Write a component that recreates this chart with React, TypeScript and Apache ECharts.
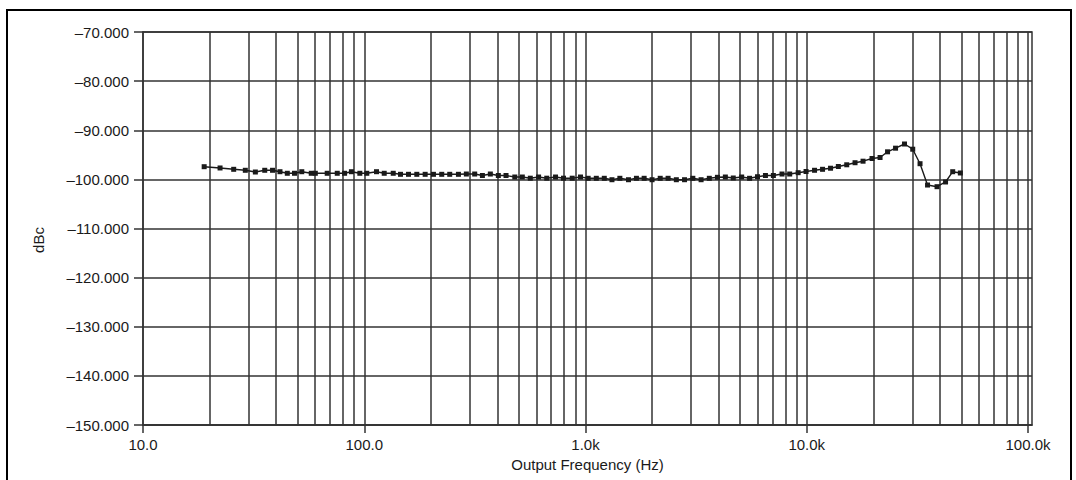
import React, { useEffect, useRef } from "react";
import * as echarts from "echarts";

// Output frequency (Hz) of each measured point
const freqHz = [
  18.9, 22.3, 25.7, 29.0, 32.2, 35.5, 38.5, 41.6, 44.9, 48.4, 52.2, 57.6, 60.1, 68.0, 75.5, 81.5, 87.5, 95.5,
  102.7, 113.6, 123.1, 135.2, 145.8, 158.5, 172.8, 188.5, 205.5, 224.0, 243.4, 266.5, 289.4, 315.6, 342.0,
  371.5, 403.7, 437.3, 479.1, 518.1, 563.0, 613.8, 668.1, 732.1, 795.5, 871.0, 949.3,
  1028, 1119, 1216, 1317, 1430, 1564, 1699, 1841, 1999, 2176, 2362, 2574, 2803, 3056, 3330, 3627, 3948,
  4287, 4655, 5080, 5515, 5991, 6506, 7066, 7729, 8375, 9145, 9928,
  10845, 11787, 12810, 13893, 15160, 16530, 17966, 19728, 21444, 23183, 25198, 27660, 30130, 32510,
  35150, 38800, 42400, 45680, 49450,
];

// Measured level (dBc) of each point
const levelDbc = [
  -97.42, -97.68, -97.95, -98.15, -98.5, -98.15, -98.15, -98.44, -98.76, -98.76, -98.44, -98.76, -98.76,
  -98.76, -98.76, -98.76, -98.44, -98.76, -98.76, -98.44, -98.76, -98.76, -98.97, -98.97, -98.97, -98.97,
  -98.97, -98.97, -98.97, -98.97, -98.91, -98.91, -99.21, -98.91, -99.21, -99.21, -99.52, -99.52, -99.76,
  -99.52, -99.76, -99.52, -99.76, -99.76, -99.52, -99.78, -99.78, -99.78, -100.07, -99.78, -100.07, -99.78,
  -99.78, -100.07, -99.78, -99.78, -100.07, -100.07, -99.78, -100.07, -99.78, -99.58, -99.52, -99.72,
  -99.52, -99.78, -99.46, -99.21, -99.21, -98.91, -98.91, -98.64, -98.4, -98.15, -97.95, -97.73, -97.38,
  -97.03, -96.61, -96.3, -95.75, -95.55, -94.39, -93.65, -92.8, -93.86, -96.81, -101.15, -101.49, -100.53,
  -98.44, -98.7,
];

// Decade tick values and their labels on the frequency axis
const xTickValues = [10, 100, 1000, 10000, 100000];
const xTickLabels = ["10.0", "100.0", "1.0k", "10.0k", "100.0k"];

// Vertical grid lines (2..9 of every decade, plus decades)
const xGridValues = [
  20, 30, 40, 50, 60, 70, 80, 90, 100,
  200, 300, 400, 500, 600, 700, 800, 900, 1000,
  2000, 3000, 4000, 5000, 6000, 7000, 8000, 9000, 10000,
  20000, 30000, 40000, 50000, 60000, 70000, 80000, 90000, 100000,
];

const yMin = -150;
const yMax = -70;
const yStep = 10;
const xMin = 10;
const xMax = 104250;

const FONT = "'Liberation Sans', Arial, Helvetica, sans-serif";
const GRID_COLOR = "#333333";
const TEXT_COLOR = "#1a1a1a";

export default function App() {
  const ref = useRef<HTMLDivElement>(null);

  useEffect(() => {
    if (!ref.current) return;
    const chart = echarts.init(ref.current, null, { renderer: "svg" });
    const data = freqHz.map((f, i) => [f, levelDbc[i]]);

    chart.setOption({
      animation: false,
      backgroundColor: "#ffffff",
      grid: {
        left: 143,
        top: 32,
        right: 44,
        bottom: 55,
        containLabel: false,
        outerBoundsMode: "none",
        show: true,
        borderColor: GRID_COLOR,
        borderWidth: 1.5,
        backgroundColor: "transparent",
      },
      graphic: [
        {
          type: "rect",
          shape: { x: 7, y: 10, width: 1064, height: 480 },
          style: { fill: "none", stroke: "#000", lineWidth: 2 },
          silent: true,
        },
        {
          type: "text",
          x: 38,
          y: 240,
          rotation: Math.PI / 2,
          style: {
            text: "dBc",
            font: `15px ${FONT}`,
            fill: TEXT_COLOR,
            align: "center",
            verticalAlign: "middle",
          },
          silent: true,
        },
      ],
      xAxis: {
        type: "log",
        logBase: 10,
        min: xMin,
        max: xMax,
        name: "Output Frequency (Hz)",
        nameLocation: "middle",
        nameGap: 19,
        nameTextStyle: { fontFamily: FONT, fontSize: 15, color: TEXT_COLOR },
        axisLine: { show: true, lineStyle: { color: GRID_COLOR, width: 1.5 } },
        axisTick: {
          show: true,
          length: 8,
          inside: false,
          customValues: xTickValues,
          lineStyle: { color: GRID_COLOR, width: 1.5 },
        },
        axisLabel: {
          show: true,
          margin: 12,
          customValues: xTickValues,
          fontFamily: FONT,
          fontSize: 15,
          color: TEXT_COLOR,
          formatter: (v: number) => {
            const i = xTickValues.findIndex((t) => Math.abs(t - v) / t < 1e-6);
            return i >= 0 ? xTickLabels[i] : "";
          },
        },
        splitLine: { show: false },
        minorTick: { show: false },
        minorSplitLine: { show: false },
      },
      yAxis: {
        type: "value",
        min: yMin,
        max: yMax,
        interval: yStep,
        axisLine: { show: true, lineStyle: { color: GRID_COLOR, width: 1.5 } },
        axisTick: { show: true, length: 9, lineStyle: { color: GRID_COLOR, width: 1.5 } },
        axisLabel: {
          margin: 14,
          fontFamily: FONT,
          fontSize: 15,
          color: TEXT_COLOR,
          formatter: (v: number) => (v < 0 ? "\u2013" : "") + Math.abs(v).toFixed(3),
        },
        splitLine: { show: true, lineStyle: { color: GRID_COLOR, width: 1.5 } },
      },
      series: [
        {
          type: "line",
          data,
          symbol: "rect",
          symbolSize: 5,
          showSymbol: true,
          itemStyle: { color: "#1a1a1a" },
          lineStyle: { color: "#1a1a1a", width: 1.4 },
          silent: true,
          z: 5,
          markLine: {
            silent: true,
            symbol: ["none", "none"],
            label: { show: false },
            lineStyle: { color: GRID_COLOR, width: 1.5, type: "solid" },
            emphasis: { disabled: true },
            data: xGridValues.map((v) => ({ xAxis: v })),
            z: 1,
          },
        },
      ],
    });

    return () => chart.dispose();
  }, []);

  return (
    <div
      ref={ref}
      style={{ position: "fixed", left: 0, top: 0, width: 1076, height: 480 }}
    />
  );
}
